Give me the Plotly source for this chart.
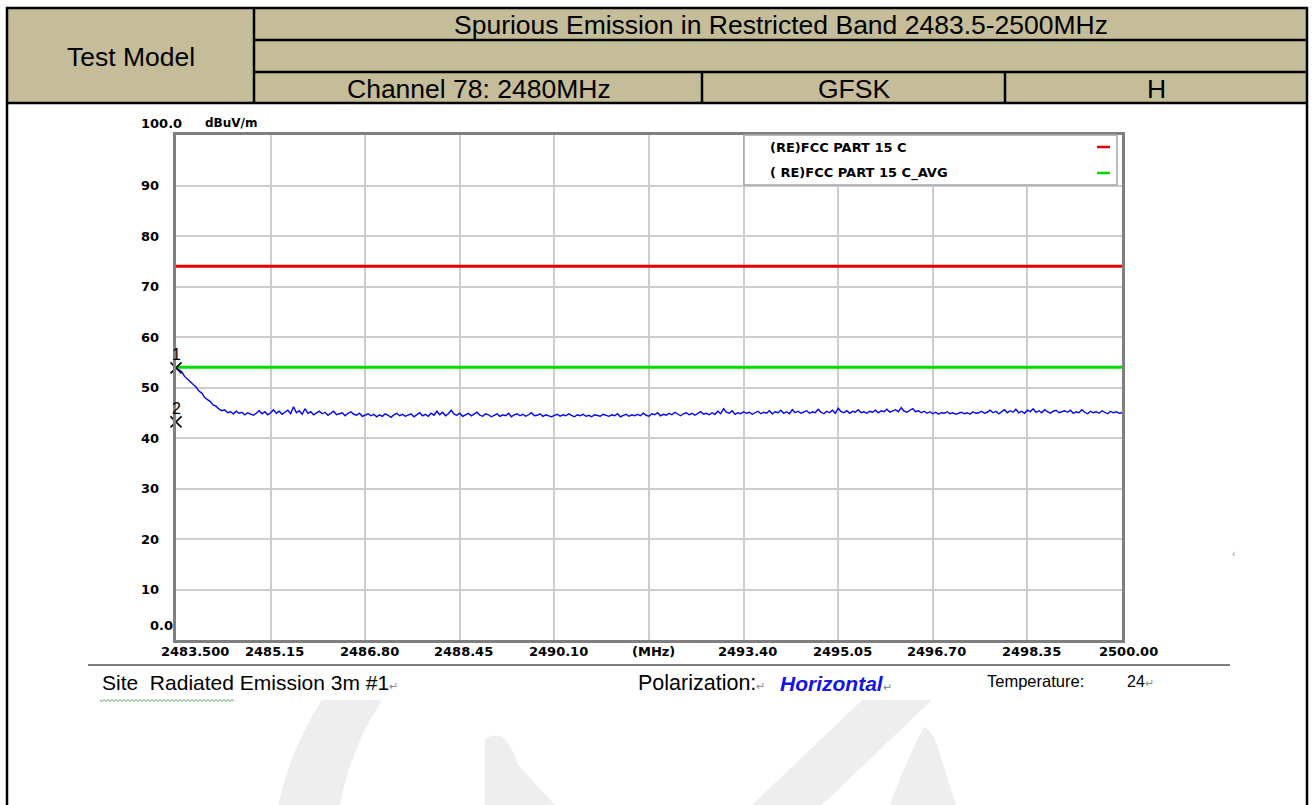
import plotly.graph_objects as go

# ---------------------------------------------------------------- data
freq_start = 2483.5
freq_stop = 2500.0
freq_step = 0.05

# measured level (dBuV/m), one value per 0.05 MHz sweep point
level_dbuv = [
    53.9, 53.4, 53.1, 52.2, 51.6, 51.0, 50.6, 50.1, 49.3, 48.9,
    48.0, 47.6, 47.2, 46.5, 46.3, 45.7, 45.4, 45.6, 45.0, 45.2, 44.8,
    45.3, 44.9, 45.1, 44.6, 45.0, 44.7, 44.5, 44.9, 45.4, 44.8,
    45.2, 44.6, 45.0, 45.6, 44.9, 45.3, 44.7, 45.1, 45.5, 44.8,
    46.2, 45.0, 45.4, 44.7, 45.8, 44.9, 45.2, 44.6, 45.0, 45.3,
    44.8, 45.1, 44.5, 44.9, 45.3, 44.6, 44.8, 45.0, 44.4, 44.9,
    45.2, 44.7, 44.5, 44.9, 44.3, 44.6, 44.8, 44.4, 44.7, 44.2,
    44.6, 44.3, 44.8, 44.5, 44.1, 44.6, 44.9, 44.4, 44.7, 44.3,
    44.5, 44.8, 44.2, 44.6, 45.0, 44.4, 44.7, 44.3, 44.9, 44.5,
    45.3, 44.6, 45.1, 44.4, 44.8, 45.5, 44.7, 44.5, 44.9, 44.3,
    44.6, 44.9, 44.4, 44.7, 45.1, 44.5, 44.3, 44.8, 44.6, 44.2,
    44.5, 44.8, 44.3, 44.6, 44.4, 44.9, 44.2, 44.6, 44.8, 44.4,
    44.7, 44.3, 44.6, 45.0, 44.4, 44.5, 44.8, 44.3, 44.6, 44.4,
    44.2, 44.5, 44.7, 44.3, 44.6, 44.4, 44.8, 44.5, 44.2, 44.6,
    44.4, 44.7, 44.3, 44.5, 44.2, 44.6, 44.4, 44.3, 44.7, 44.5,
    44.3, 44.6, 44.4, 44.8, 44.2, 44.5, 44.7, 44.3, 44.6, 44.4,
    44.7, 44.4, 44.9, 44.5, 44.3, 44.8, 44.6, 45.0, 44.4, 44.7,
    44.5, 44.9, 44.6, 45.1, 44.7, 44.4, 44.8, 45.0, 44.6, 44.9,
    44.5, 44.8, 45.2, 44.7, 44.9, 44.6, 45.0, 44.7, 45.3, 44.8,
    45.8, 45.1, 44.9, 45.4, 44.7, 45.0, 44.8, 45.2, 44.9, 45.1,
    44.7, 45.0, 45.3, 44.8, 45.1, 44.9, 45.4, 44.8, 45.2, 45.0,
    45.5, 44.9, 45.2, 44.8, 45.6, 45.0, 45.3, 44.9, 45.1, 45.4,
    44.9, 45.2, 45.0, 45.7, 45.1, 44.8, 45.3, 45.0, 45.5, 44.9,
    45.9, 45.2, 45.0, 45.4, 44.9, 45.3, 45.1, 45.6, 45.0, 45.2,
    44.9, 45.3, 45.1, 45.5, 45.0, 45.4, 45.2, 45.7, 45.1, 45.3,
    45.6, 45.2, 46.0, 45.3, 45.1, 45.5, 45.8, 45.2, 45.4, 45.0,
    45.3, 44.9, 45.2, 44.8, 45.1, 44.7, 45.0, 44.9, 45.2, 44.8,
    45.0, 44.7, 44.9, 45.1, 44.8, 45.0, 44.7, 45.2, 44.9, 45.0,
    45.3, 44.9, 45.1, 45.5, 45.0, 45.3, 44.8, 45.2, 45.6, 45.0,
    45.4, 45.1, 45.7, 45.0, 45.3, 44.9, 45.5, 45.2, 45.8, 45.1,
    45.4, 45.0, 45.6, 45.2, 44.9, 45.3, 45.5, 45.0, 45.2, 45.4,
    45.1, 45.5, 44.9, 45.2, 45.0, 45.6, 45.1, 44.8, 45.3, 45.0,
    45.2, 44.9, 45.4, 45.1, 44.8, 45.3, 45.0, 45.2, 44.9, 45.0,
]
freq_mhz = [round(freq_start + i * freq_step, 2) for i in range(len(level_dbuv))]

# limit lines
limit_names = ["(RE)FCC PART 15 C", "( RE)FCC PART 15 C_AVG"]
limit_values = [74.0, 54.0]
limit_colors = ["#E60000", "#00DC00"]

# markers
marker_ids = ["1", "2"]
marker_freq = [2483.5, 2483.5]
marker_level = [53.9, 43.2]

# axes
x_ticks = [2483.50, 2485.15, 2486.80, 2488.45, 2490.10, 2491.75,
           2493.40, 2495.05, 2496.70, 2498.35, 2500.00]
x_tick_labels = ["2483.500", "2485.15", "2486.80", "2488.45", "2490.10", "(MHz)",
                 "2493.40", "2495.05", "2496.70", "2498.35", "2500.00"]
y_ticks = [0, 10, 20, 30, 40, 50, 60, 70, 80, 90, 100]
y_tick_labels = ["0.0", "10", "20", "30", "40", "50", "60", "70", "80", "90", "100.0"]

# ---------------------------------------------------------------- page geometry
W, H = 1313, 805


def px(x):
    return x / W


def py(y):
    return 1 - y / H


PLOT_L, PLOT_R, PLOT_T, PLOT_B = 176, 1122, 135, 640

SANS = "Arial, 'Liberation Sans', sans-serif"
CHART = "'DejaVu Sans', Verdana, sans-serif"
TAN = "#C5BD99"

fig = go.Figure()

# limit lines
for name, val, col in zip(limit_names, limit_values, limit_colors):
    fig.add_trace(go.Scatter(
        x=[freq_start, freq_stop], y=[val, val], mode="lines",
        line=dict(color=col, width=3), name=name, showlegend=False,
        hoverinfo="skip"))

# measured trace
fig.add_trace(go.Scatter(
    x=freq_mhz, y=level_dbuv, mode="lines",
    line=dict(color="#0000FF", width=1.4), showlegend=False, name="Level"))

# markers
fig.add_trace(go.Scatter(
    x=marker_freq, y=marker_level, mode="markers",
    marker=dict(symbol="x-thin-open", size=11, color="#000000",
                line=dict(color="#000000", width=1.6)),
    cliponaxis=False, showlegend=False))

shapes = []
annotations = []

# marker numbers drawn above the axis frame
for mid, mf, ml in zip(marker_ids, marker_freq, marker_level):
    annotations.append(dict(xref="x", yref="y", x=mf, y=ml, text=mid,
                            showarrow=False, xanchor="center", yanchor="bottom",
                            yshift=3, font=dict(family=SANS, size=16, color="#000000")))

# ---------------------------------------------------------------- header table
shapes.append(dict(type="rect", xref="paper", yref="paper",
                   x0=px(8), x1=px(1307), y0=py(103), y1=py(8),
                   fillcolor=TAN, line=dict(width=0), layer="below"))


def hline(y, x0, x1, w=2.5, c="#000000"):
    shapes.append(dict(type="line", xref="paper", yref="paper",
                       x0=px(x0), x1=px(x1), y0=py(y), y1=py(y),
                       line=dict(color=c, width=w)))


def vline(x, y0, y1, w=2.5, c="#000000"):
    shapes.append(dict(type="line", xref="paper", yref="paper",
                       x0=px(x), x1=px(x), y0=py(y0), y1=py(y1),
                       line=dict(color=c, width=w)))


hline(8, 6, 1308)
hline(103, 6, 1308)
hline(40, 254, 1307)
hline(72, 254, 1307)
vline(7, 7, 805)
vline(1307, 7, 805)
vline(254, 8, 103)
vline(702, 72, 103)
vline(1005, 72, 103)


def text(x, y, s, size, color="#000000", anchor="center", family=SANS, valign="middle"):
    annotations.append(dict(xref="paper", yref="paper", x=px(x), y=py(y),
                            text=s, showarrow=False, xanchor=anchor, yanchor=valign,
                            font=dict(family=family, size=size, color=color)))


text(781, 25, "Spurious Emission in Restricted Band 2483.5-2500MHz", 26.5)
text(131, 57, "Test Model", 26.5)
text(479, 89, "Channel 78: 2480MHz", 26.5)
text(854, 89, "GFSK", 26.5)
text(1156, 89, "H", 26.5)

# ---------------------------------------------------------------- watermark
WM = "#EEEEEE"


def path(d):
    shapes.append(dict(type="path", xref="paper", yref="paper", path=d,
                       fillcolor=WM, line=dict(width=0), layer="below"))


def P(x, y):
    return f"{px(x):.5f},{py(y):.5f}"


path(f"M{P(322,700)} L{P(382,700)} Q{P(350,750)} {P(340,805)} L{P(278,805)} Q{P(292,745)} {P(322,700)} Z")
path(f"M{P(485,740)} Q{P(492,733)} {P(502,737)} Q{P(512,745)} {P(518,765)} L{P(555,805)} L{P(485,805)} Z")
path(f"M{P(862,700)} L{P(932,700)} L{P(822,805)} L{P(752,805)} Z")
path(f"M{P(924,727)} Q{P(932,730)} {P(937,745)} L{P(956,805)} L{P(890,805)} Q{P(906,760)} {P(924,727)} Z")

# ---------------------------------------------------------------- legend box inside plot
shapes.append(dict(type="rect", xref="paper", yref="paper",
                   x0=px(744), x1=px(1117), y0=py(185), y1=py(135),
                   fillcolor="#FFFFFF", line=dict(color="#A8A8A8", width=1.5),
                   layer="above"))
for i, (name, col) in enumerate(zip(limit_names, limit_colors)):
    yy = 147 + i * 26
    text(768, yy, f"<b>{name}</b>", 13, anchor="left", family=CHART)
    shapes.append(dict(type="line", xref="paper", yref="paper",
                       x0=px(1097), x1=px(1110), y0=py(yy), y1=py(yy),
                       line=dict(color=col, width=2.5), layer="above"))

# ---------------------------------------------------------------- axis labels
first_lab, last_lab = x_tick_labels[0], x_tick_labels[-1]
for v, lab in zip(x_ticks, x_tick_labels):
    if lab == first_lab:
        shift = 19
    elif lab == last_lab:
        shift = 6
    else:
        shift = 4
    annotations.append(dict(xref="x", yref="y", x=v, y=0, text=f"<b>{lab}</b>",
                            showarrow=False, xanchor="center", yanchor="top",
                            xshift=shift, yshift=-2,
                            font=dict(family=CHART, size=13, color="#000000")))

for v, lab in zip(y_ticks, y_tick_labels):
    xl = 139
    ys = 0
    if v == 0:
        xl, ys = 148, 15
    elif v == 100:
        ys = 12
    annotations.append(dict(xref="paper", yref="y", x=px(xl), y=v, text=f"<b>{lab}</b>",
                            showarrow=False, xanchor="left", yanchor="middle", yshift=ys,
                            font=dict(family=CHART, size=13, color="#000000")))
text(203, 123, "<b>dBuV/m</b>", 12, anchor="left", family=CHART)

# ---------------------------------------------------------------- footer line
hline(665, 88, 1230, w=1.2)

MARK = "<span style='font-size:11px;color:#8C8C8C'>\u21b5</span>"
text(100, 682, "Site\u00a0\u00a0Radiated Emission 3m #1" + MARK, 21, anchor="left")
text(636, 683, "Polarization:" + MARK, 21.5, anchor="left")
text(778, 683, "<b><i>Horizontal</i></b>" + MARK, 21, color="#1414E6", anchor="left")
text(985, 681, "Temperature:", 16.5, anchor="left")
text(1125, 681, "24" + MARK, 16, anchor="left")
text(1233, 553, "\u2039", 10, color="#9A9A9A")

# green wavy underline beneath the first words of the site line
wave = [f"M{P(100, 700)}"]
xw = 100
k = 0
while xw < 233:
    xw += 2
    k += 1
    wave.append(f"L{P(xw, 700 + (1.5 if k % 2 else -0.5))}")
shapes.append(dict(type="path", xref="paper", yref="paper", path=" ".join(wave),
                   line=dict(color="#4CA64C", width=1)))

# ---------------------------------------------------------------- layout
fig.update_layout(
    width=W, height=H,
    margin=dict(l=0, r=0, t=0, b=0),
    paper_bgcolor="#FFFFFF", plot_bgcolor="#FFFFFF",
    showlegend=False,
    shapes=shapes, annotations=annotations,
    xaxis=dict(domain=[px(PLOT_L), px(PLOT_R)], range=[freq_start, freq_stop],
               tickvals=x_ticks, showticklabels=False, ticks="",
               showgrid=True, gridcolor="#CDCDCD", gridwidth=2,
               showline=True, mirror=True, linecolor="#808080", linewidth=2.5,
               zeroline=False, fixedrange=True),
    yaxis=dict(domain=[py(PLOT_B), py(PLOT_T)], range=[0, 100],
               tickvals=y_ticks, showticklabels=False, ticks="",
               showgrid=True, gridcolor="#CDCDCD", gridwidth=2,
               showline=True, mirror=True, linecolor="#808080", linewidth=2.5,
               zeroline=False, fixedrange=True),
)

fig.write_html("out.html")
